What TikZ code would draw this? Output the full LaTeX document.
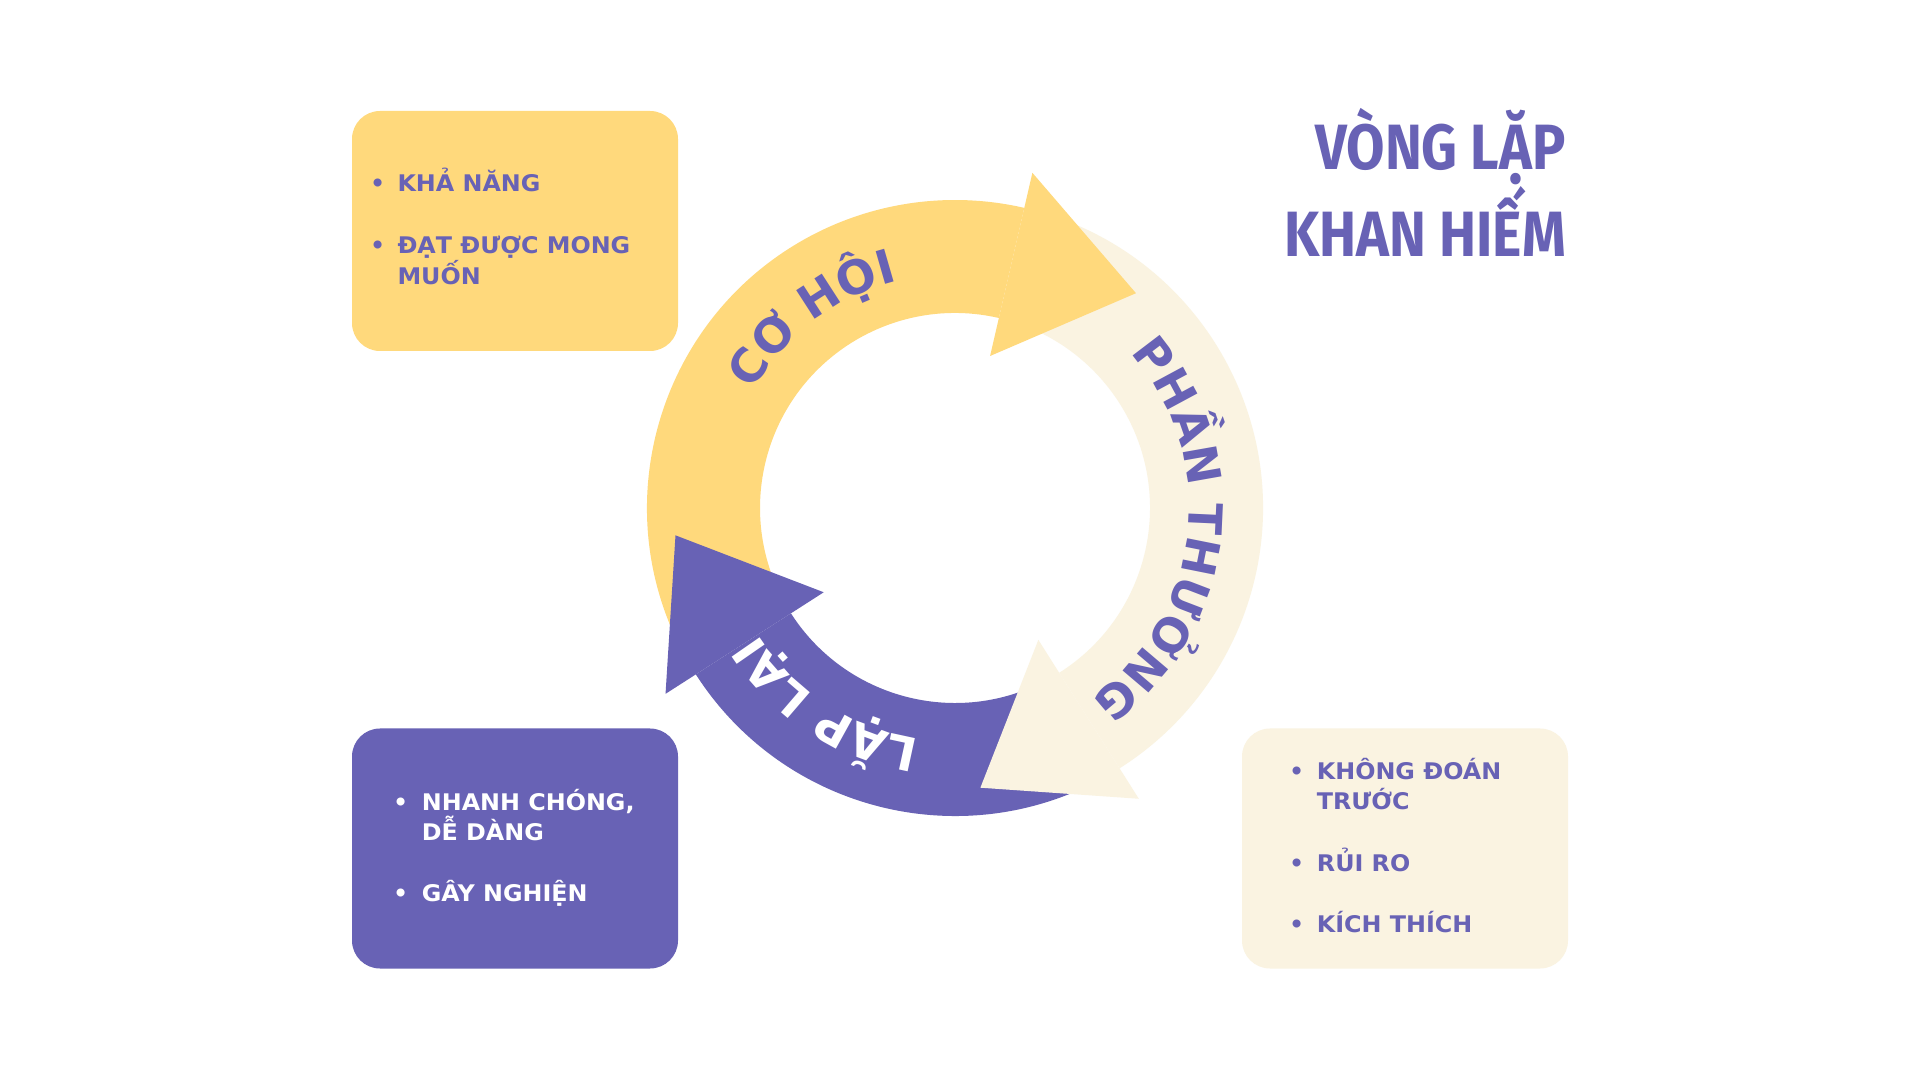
\documentclass[tikz,border=0pt]{standalone}
\usepackage{fontspec}
\setmainfont{DejaVu Sans}
\newfontfamily\titlefont[FakeStretch=0.87]{Fira Sans}
\newfontfamily\itemfont[FakeStretch=1.04]{DejaVu Sans}
\usepackage{xcolor}
\usepackage{tikz}
\usetikzlibrary{positioning}
\usetikzlibrary{decorations.text}

\definecolor{ringyellow}{RGB}{255,217,124}
\definecolor{ringpurple}{RGB}{104,98,181}
\definecolor{ringcream}{RGB}{250,243,225}
\newcommand{\arcfont}{\bfseries\fontsize{46.6}{50}\selectfont}

\begin{document}
\begin{tikzpicture}[x=1pt, y=1pt,
    card/.style={rounded corners=28pt, minimum width=326pt, minimum height=240pt, inner sep=0pt},
    item/.style={anchor=base west, inner sep=0pt, font=\itemfont\bfseries\fontsize{22.9}{27}\selectfont},
    dot/.style={anchor=base, inner sep=0pt, font=\bfseries\fontsize{22.9}{27}\selectfont},
    heading/.style={anchor=base east, inner sep=0pt, text=ringpurple, font=\titlefont\bfseries\fontsize{64}{70}\selectfont}]
  \fill[white] (0,0) rectangle (1920,1080);
  \coordinate (hub) at (955,572);
  \begin{scope}[shift={(hub)}]
    \foreach \a/\b/\c in {210/77/ringyellow, 75/-57.7/ringcream, -60/-147.3/ringpurple} {
      \fill[\c] (\a:308) arc[start angle=\a, end angle=\b, radius=308] -- (\b:195) arc[start angle=\b, end angle=\a, radius=195] -- cycle;
    }
    \foreach \b/\c in {77/ringyellow, -57.7/ringcream, -147.3/ringpurple} {
      \fill[\c] (\b:156) -- (\b:344) -- ([shift={(\b-90:128)}]\b:250) -- cycle;
    }
    \path[decorate, decoration={text along path, text align=center, text color=ringpurple, text={|\arcfont|CƠ HỘI}}]
      (187:234) arc[start angle=187, end angle=67, radius=234];
    \path[decorate, decoration={text along path, text align=center, text color=ringpurple, text={|\arcfont|PHẦN THƯỞNG}}]
      (60:234) arc[start angle=60, end angle=-73, radius=234];
    \path[decorate, decoration={text along path, text align=center, text color=white, text={|\arcfont|LẶP LẠI}}]
      (278:234) arc[start angle=278, end angle=196, radius=234];
  \end{scope}

  \node[heading] (title1) at (1566,910) {VÒNG LẶP};
  \node[heading] (title2) at (1566,823.3) {KHAN HIẾM};

  \node[card, fill=ringyellow] (chance) at (515,849) {};
  \node[dot, text=ringpurple] (cb1) at (377.7,888) {•};
  \node[item, text=ringpurple] (c1) at (397.3,888) {KHẢ NĂNG};
  \node[dot, text=ringpurple] (cb2) at (377.7,826.7) {•};
  \node[item, text=ringpurple] (c2) at (397.3,826.7) {ĐẠT ĐƯỢC MONG};
  \node[item, text=ringpurple] (c3) at (397.3,795.7) {MUỐN};

  \node[card, fill=ringpurple] (repeat) at (515,231.5) {};
  \node[dot, text=white] (rb1) at (400.7,269.3) {•};
  \node[item, text=white] (r1) at (421.7,269.3) {NHANH CHÓNG,};
  \node[item, text=white] (r2) at (421.7,239.3) {DỄ DÀNG};
  \node[dot, text=white] (rb2) at (400.7,178.3) {•};
  \node[item, text=white] (r3) at (421.7,178.3) {GÂY NGHIỆN};

  \node[card, fill=ringcream] (reward) at (1405,231.5) {};
  \node[dot, text=ringpurple] (wb1) at (1296.7,300.7) {•};
  \node[item, text=ringpurple] (w1) at (1316.7,300.7) {KHÔNG ĐOÁN};
  \node[item, text=ringpurple] (w2) at (1316.7,270) {TRƯỚC};
  \node[dot, text=ringpurple] (wb2) at (1296.7,209) {•};
  \node[item, text=ringpurple] (w3) at (1316.7,209) {RỦI RO};
  \node[dot, text=ringpurple] (wb3) at (1296.7,147.7) {•};
  \node[item, text=ringpurple] (w4) at (1316.7,147.7) {KÍCH THÍCH};
\end{tikzpicture}
\end{document}
